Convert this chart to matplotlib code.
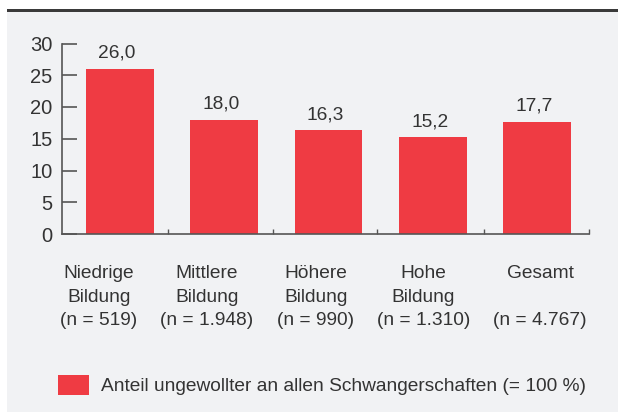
import matplotlib
matplotlib.use("Agg")
import matplotlib.pyplot as plt
from matplotlib.patches import Rectangle
from matplotlib.transforms import blended_transform_factory

cat_lines = [["Niedrige", "Bildung", "(n = 519)"],
             ["Mittlere", "Bildung", "(n = 1.948)"],
             ["Höhere", "Bildung", "(n = 990)"],
             ["Hohe", "Bildung", "(n = 1.310)"],
             ["Gesamt", "", "(n = 4.767)"]]
values = [26.0, 18.0, 16.3, 15.2, 17.7]
value_labels = ["26,0", "18,0", "16,3", "15,2", "17,7"]
yticks = [0, 5, 10, 15, 20, 25, 30]
legend_label = "Anteil ungewollter an allen Schwangerschaften (= 100 %)"

plt.rcParams['font.family'] = ['Liberation Sans', 'DejaVu Sans']
TXT = "#333333"
BAR = "#ef3b43"
PANEL = "#f1f2f4"
AX = "#555555"

W, H = 618, 412
fig = plt.figure(figsize=(W / 100, H / 100), dpi=100)
fig.patch.set_facecolor("white")
fig.patches.append(Rectangle((7 / W, 0), 1 - 7 / W, 1 - 12 / H, transform=fig.transFigure,
                             facecolor=PANEL, edgecolor="none", zorder=-10))
fig.patches.append(Rectangle((7 / W, 1 - 12 / H), 1 - 7 / W, 3 / H, transform=fig.transFigure,
                             facecolor="#3a3a3a", edgecolor="none", zorder=-10))

ax = fig.add_axes([62 / W, 1 - 234 / H, (589 - 62) / W, (234 - 43.5) / H])
ax.set_zorder(1)
ax.set_facecolor("none")
x = list(range(len(values)))
bars = ax.bar(x, values, width=0.65, color=BAR, label=legend_label, zorder=2)
ax.set_xlim(-0.556, 4.5)
ax.set_ylim(0, 30)
ax.set_yticks(yticks)
ax.set_yticklabels([str(v) for v in yticks])
for s in ["top", "right"]:
    ax.spines[s].set_visible(False)
for s in ["left", "bottom"]:
    ax.spines[s].set_color(AX)
    ax.spines[s].set_linewidth(1.2)
ax.tick_params(axis="y", direction="in", length=10.5, width=1.2, color=AX,
               labelsize=14.5, labelcolor=TXT, pad=7)
ax.set_xticks([])
ax.set_xticks([0.46, 1.47, 2.47, 3.49, 4.5], minor=True)
ax.tick_params(axis="x", which="minor", direction="in", length=3.8, width=1.0, color=AX)

fs = 13.8
for xi, v, lab in zip(x, values, value_labels):
    ax.annotate(lab, (xi, v), xytext=(-2, 5), textcoords="offset points",
                ha="center", va="bottom", fontsize=fs, color=TXT)

trans = blended_transform_factory(ax.transData, fig.transFigure)
label_x = [-0.2, 0.835, 1.88, 2.91, 4.03]
line_y = [274, 297.5, 320.5]
for lx, lines in zip(label_x, cat_lines):
    for ly, t in zip(line_y, lines):
        if t:
            ax.text(lx, 1 - ly / H, t, transform=trans, ha="center", va="center",
                    fontsize=fs, color=TXT)

fpx = fs * 100 / 72
fig.legend(handles=[bars], labels=[legend_label], loc="center left",
           bbox_to_anchor=(58 / W, 1 - 385 / H), frameon=False, fontsize=fs,
           handlelength=31 / fpx, handleheight=23 / fpx, handletextpad=12 / fpx,
           borderpad=0, borderaxespad=0, labelcolor=TXT)

fig.savefig("out.png", dpi=100)
